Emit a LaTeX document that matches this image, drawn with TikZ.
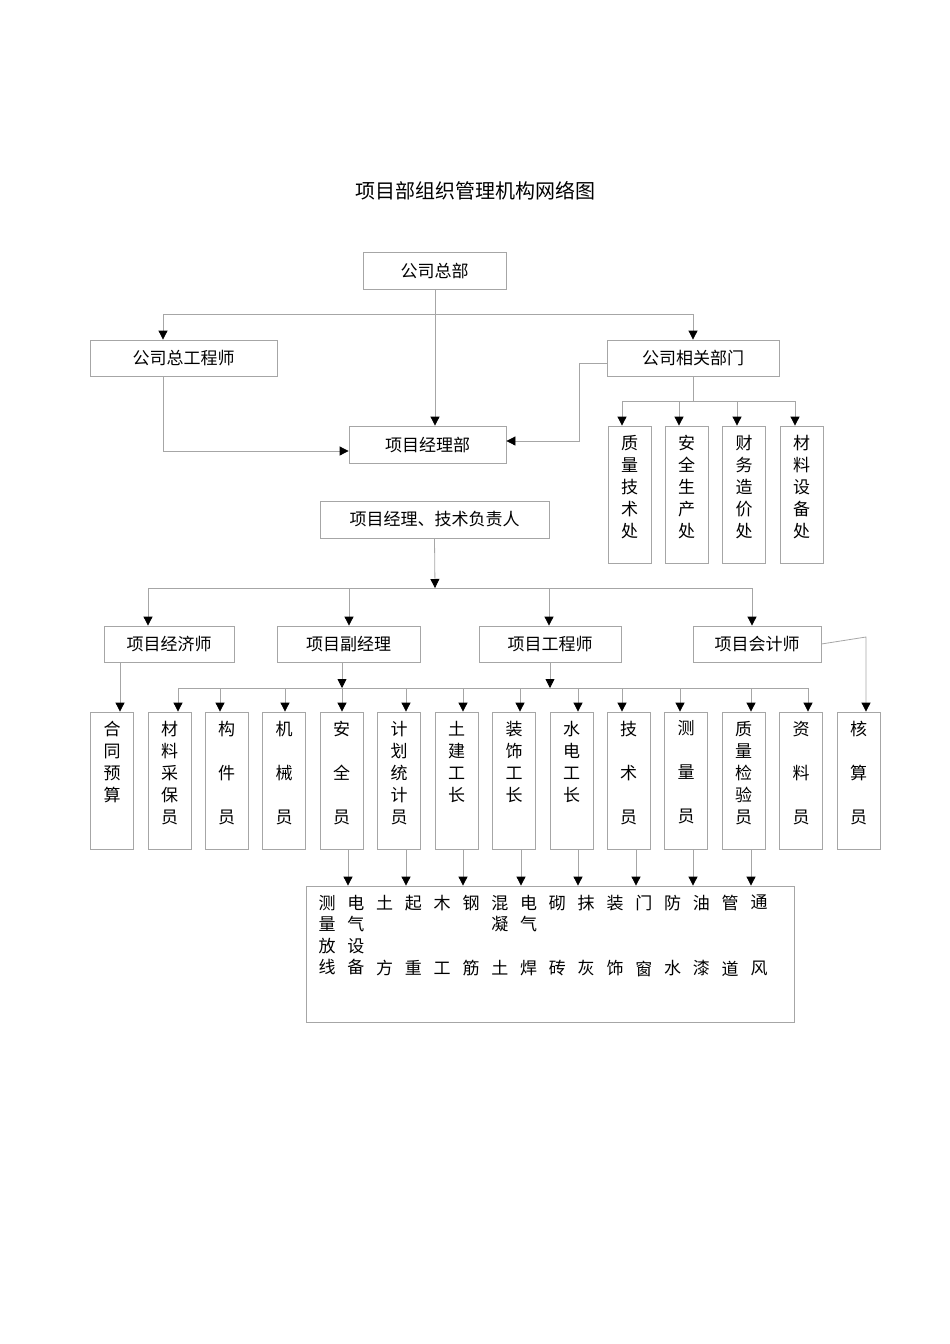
\documentclass[tikz,border=0pt]{standalone}
\usepackage{fontspec}
\setmainfont{Noto Sans CJK SC}
\usetikzlibrary{arrows.meta}
\tikzset{
 box/.style={draw=black!35,line width=0.8pt,inner sep=0pt,font=\fontsize{17}{20}\selectfont},
 vtext/.style={inner sep=0pt,align=center,font=\fontsize{17}{22}\selectfont,anchor=north},
 ln/.style={draw=black!35,line width=0.8pt},
 arr/.style={ln,-{Triangle[black,length=9pt,width=9pt]}},
}
\begin{document}
\begin{tikzpicture}[x=1pt,y=-1pt]
\useasboundingbox (0,0) rectangle (950,1344);
\node[font=\fontsize{20}{24}\selectfont] (title) at (475,191) {项目部组织管理机构网络图};
% top
\node[box,minimum width=143,minimum height=37] (hq) at (434.5,270.5) {公司总部};
\node[box,minimum width=187,minimum height=36] (ce) at (183.5,358) {公司总工程师};
\node[box,minimum width=172,minimum height=36] (rd) at (693,358) {公司相关部门};
\node[box,minimum width=157,minimum height=37] (pm) at (427.5,444.5) {项目经理部};
\node[box,minimum width=229,minimum height=37] (pt) at (434.5,519.5) {项目经理、技术负责人};
\coordinate (hqs) at (435,314);
\coordinate (ceL) at (163,314);
\coordinate (rdL) at (693,314);
\draw[ln] (ceL) -- (rdL);
\draw[arr] (ceL) -- (ce.north -| ceL);
\draw[arr] (rdL) -- (rd.north);
\draw[arr] (hq.south -| pm.north -| hqs) -- (pm.north -| hqs);
\coordinate (ceb) at (163,451);
\draw[arr] (ce.south -| ceb) -- (ceb) -- (pm.west |- ceb);
\coordinate (rdb) at (579,441);
\draw[arr] (rd.west |- 0,363) -- (579,363) -- (rdb) -- (pm.east |- rdb);
% departments
\coordinate (dl) at (622,401);
\coordinate (dr) at (795,401);
\draw[ln] (rd.south) -- (693,401);
\draw[ln] (dl) -- (dr);
\foreach \x/\t/\n in {629.5/质\\量\\技\\术\\处/d1,686.5/安\\全\\生\\产\\处/d2,744/财\\务\\造\\价\\处/d3,801.5/材\\料\\设\\备\\处/d4}{
 \node[box,minimum width=43,minimum height=137] (\n) at (\x,494.5) {};
 \node[vtext] at ([yshift=-9]\n.north) {\t};
}
\foreach \n/\a in {d1/622,d2/679,d3/737,d4/795}{ \draw[arr] (\a,401) -- (\n.north -| \a,0); }
% level 2
\coordinate (l2) at (435,588);
\draw[arr] (pt.south) -- (l2);
\draw[ln] (148,588) -- (752,588);
\node[box,minimum width=130,minimum height=36] (ec) at (169,644) {项目经济师};
\node[box,minimum width=143,minimum height=36] (vm) at (348.5,644) {项目副经理};
\node[box,minimum width=142,minimum height=36] (en) at (550,644) {项目工程师};
\node[box,minimum width=128,minimum height=36] (ac) at (757,644) {项目会计师};
\foreach \n/\a in {ec/148,vm/349,en/549,ac/752}{ \draw[arr] (\a,588) -- (\n.north -| \a,0); }
% level 3
\foreach \x/\t/\n in {
112/合\\同\\预\\算/r1,
169.5/材\\料\\采\\保\\员/r2,
226.5/构\\[22pt]件\\[22pt]员/r3,
284/机\\[22pt]械\\[22pt]员/r4,
341.5/安\\[22pt]全\\[22pt]员/r5,
399/计\\划\\统\\计\\员/r6,
456.5/土\\建\\工\\长/r7,
514/装\\饰\\工\\长/r8,
571.5/水\\电\\工\\长/r9,
628.5/技\\[22pt]术\\[22pt]员/r10,
686/测\\[22pt]量\\[22pt]员/r11,
743.5/质\\量\\检\\验\\员/r12,
801/资\\[22pt]料\\[22pt]员/r13,
858.5/核\\[22pt]算\\[22pt]员/r14}{
 \node[box,minimum width=43,minimum height=137] (\n) at (\x,780.5) {};
 \node[vtext] at ([yshift=-9]\n.north) {\t};
}
\draw[ln] (178,688) -- (808,688);
\draw[arr] (vm.south -| 342,0) -- (342,688);
\draw[arr] (en.south) -- (en.south |- 0,688);
\foreach \n/\a in {r2/178,r3/220,r4/285,r5/342,r6/406,r7/463,r8/520,r9/578,r10/622,r11/680,r12/751,r13/808}{ \draw[arr] (\a,688) -- (\n.north -| \a,0); }
\draw[arr] (ec.south -| 120,0) -- (r1.north -| 120,0);
\draw[arr] (ac.east) -- (866,637) -- (r14.north -| 866,0);
% bottom box
\node[box,minimum width=488,minimum height=136] (bt) at (550,954) {};
\foreach \n/\a in {r5/348,r6/406,r7/463,r8/521,r9/578,r10/636,r11/693,r12/751}{ \draw[arr] (\n.south -| \a,0) -- (bt.north -| \a,0); }
\foreach \i/\t in {0/测\\量\\放\\线,1/电\\气\\设\\备,2/土\\[44pt]方,3/起\\[44pt]重,4/木\\[44pt]工,5/钢\\[44pt]筋,6/混\\凝\\[22pt]土,7/电\\气\\[22pt]焊,8/砌\\[44pt]砖,9/抹\\[44pt]灰,10/装\\[44pt]饰,11/门\\[44pt]窗,12/防\\[44pt]水,13/油\\[44pt]漆,14/管\\[44pt]道,15/通\\[44pt]风}{
 \node[vtext,font=\fontsize{17}{21.5}\selectfont] (w\i) at ({327+28.8*\i},895) {\t};
}
\end{tikzpicture}
\end{document}
